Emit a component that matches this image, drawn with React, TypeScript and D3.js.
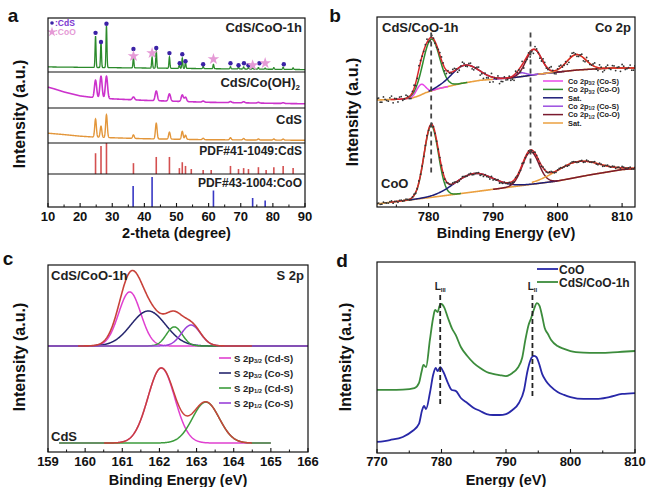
import React from 'react';
import * as d3 from 'd3';

const FONT = "'Liberation Sans', Arial, Helvetica, sans-serif";

// ================= Panel a : XRD =================
const xrdMajorTicks = [10, 20, 30, 40, 50, 60, 70, 80, 90];
const xrdMinorTicks = [15, 25, 35, 45, 55, 65, 75, 85];

const hybridXrdPeakPos = [24.8, 26.5, 28.2, 36.6, 42.4, 43.7, 47.8, 50.9, 51.8, 52.8, 58.3, 61.5, 66.8, 69.3, 70.9, 72.4, 73.7, 75.5, 77.6, 80.3, 83.2, 86.3];
const hybridXrdPeakInt = [58, 47, 77, 19, 20, 32, 21, 6, 19, 11, 4, 8, 4, 3, 4, 3, 2, 3, 2, 3, 4, 3];
const hybridXrdBaseX = [10, 30, 50, 70, 90];
const hybridXrdBaseY = [9.4, 8, 6.8, 5.6, 4.5];

const cohXrdPeakPos = [24.8, 26.5, 28.2, 36.6, 43.7, 47.8, 51.8, 52.8, 58.3, 66.8, 70.9, 75.5, 83.2];
const cohXrdPeakInt = [49, 61, 62, 8, 27, 20, 18, 12, 3, 3, 3, 2, 2];
const cohXrdBaseX = [10, 12, 15, 20, 25, 30, 40, 50, 60, 70, 80, 90];
const cohXrdBaseY = [58, 53, 44.5, 33.6, 28, 25.4, 21.3, 18.6, 15.8, 14.5, 13, 11.7];

const cdsXrdPeakPos = [24.8, 26.5, 28.2, 36.6, 43.7, 47.8, 51.8, 52.8, 58.3, 66.8, 70.9, 75.5, 80.3, 83.2];
const cdsXrdPeakInt = [52, 32, 65, 10, 45, 20, 23, 12, 4, 6, 4, 3, 3, 3];
const cdsXrdBaseX = [10, 15, 20, 25, 30, 40, 50, 60, 80, 90];
const cdsXrdBaseY = [28, 24, 19.5, 16.6, 15, 12.2, 10.8, 9.3, 8.4, 7.8];

const cdsRefPos = [24.8, 26.5, 28.2, 36.6, 43.7, 47.8, 50.9, 51.8, 52.8, 54.6, 58.3, 60.8, 66.8, 69.3, 70.9, 72.4, 75.5, 77.9, 80.3, 83.2, 86.3];
const cdsRefInt = [67, 90, 100, 35, 55, 55, 19, 38, 26, 16, 13, 13, 26, 16, 19, 16, 22, 13, 22, 26, 19];
const cooRefPos = [36.5, 42.4, 61.5, 73.7, 77.6];
const cooRefInt = [70, 100, 55, 30, 22];

const cdsMarkPos = [24.8, 26.5, 28.2, 36.6, 43.7, 47.8, 51.0, 51.8, 52.8, 58.3, 66.8, 69.3, 71.0, 72.4, 75.8, 83.4];
const cdsMarkY = [72.5, 55.6, 89.3, 42.5, 44.4, 35, 16.3, 33, 20, 14.4, 16.3, 12.5, 16.3, 12.5, 16.3, 14.4];
const cooMarkPos = [36.6, 42.4, 61.5, 73.7, 77.6];
const cooMarkY = [29.4, 35, 23.8, 12.5, 16.3];

// ================= Panel b : Co 2p XPS =================
const bMajorTicks = [780, 790, 800, 810];
const bMinorTicks = [775, 785, 795, 805];
const coLegendNames = ['Co 2p|3/2| (Co-S)', 'Co 2p|3/2| (Co-O)', 'Sat.', 'Co 2p|1/2| (Co-S)', 'Co 2p|1/2| (Co-O)', 'Sat.'];

const hybridCoBaseE = [772, 776, 777.5, 778.5, 779.5, 780.5, 781.5, 783, 785, 788, 790, 793, 795, 797, 800, 803, 806, 809, 812];
const hybridCoBaseI = [56.3, 56.8, 57.4, 58.5, 60.1, 61.2, 62.3, 63.4, 65.0, 66.7, 67.2, 68.0, 68.9, 69.9, 71.0, 72.1, 72.7, 73.2, 73.2];
const hybridCoComp = [0, 1, 2, 3, 4, 5];
const hybridCoCenter = [778.8, 780.4, 785.6, 794.3, 796.3, 802.9];
const hybridCoHeight = [5.5, 27.3, 9.3, 2, 13.4, 8.2];
const hybridCoFwhm = [1.6, 3.0, 5.0, 2.0, 2.8, 3.5];
const hybridCoFrom = [775, 776, 780, 790, 792, 797];
const hybridCoTo = [783, 786, 801, 799, 812, 812];

const cooCoBaseE = [772, 776, 780, 785, 790, 795, 800, 805, 810, 812];
const cooCoBaseI = [1.6, 3.3, 4.9, 7.1, 9.3, 11.5, 13.7, 16.9, 19.7, 20.2];
const cooCoComp = [1, 2, 4, 5];
const cooCoCenter = [780.4, 787, 795.8, 803];
const cooCoHeight = [37.7, 9.6, 17.2, 8.2];
const cooCoFwhm = [2.6, 7, 3, 8];
const cooCoFrom = [776, 777, 790, 796];
const cooCoTo = [785, 800, 812, 812];

const coNoise = [0.8, -1.2, 1.5, -0.4, 0.9, -1.8, 0.3, 1.1, -0.7, 1.6, -1.1, 0.5, -1.5, 1.9, -0.2, 0.7, -1.3, 1.2, -0.9, 0.4, 1.7, -1.6, 0.6, -0.5, 1.3, -1.9, 0.2, 1.0, -0.8, 1.4, -1.4, 0.9, -2.2, -2.8, -1.5, -3.1, -2.4, -0.6, -2.9, -1.8, -1.0, 0.6, -1.7, 1.1, -0.3, 1.8, -1.2, 0.5, -0.9, 1.5, 0.1, -1.3, 1.0, -0.6, 1.9, -1.5, 0.4, 1.2, -0.4, -1.7, 0.8, 1.4, -1.0, 0.3, -1.6, 1.7, -0.5, 0.9, -1.1, 1.6, -1.9, 0.7, -0.2, 1.3, -1.4, 0.5, 1.8, -0.8, 0.2, -1.2, 1.0];
const coDashE = [780.4, 795.8];
const coDashTop = [91.8, 91.8];
const coDashBottom = [18, 20.2];

// ================= Panel c : S 2p XPS =================
const cMajorTicks = [159, 160, 161, 162, 163, 164, 165, 166];
const cMinorTicks = [159.5, 160.5, 161.5, 162.5, 163.5, 164.5, 165.5];
const sLegendNames = ['S 2p|3/2| (Cd-S)', 'S 2p|3/2| (Co-S)', 'S 2p|1/2| (Cd-S)', 'S 2p|1/2| (Co-S)'];
const hybridSCenter = [161.2, 161.7, 162.4, 162.85];
const hybridSHeight = [28.9, 18.7, 10.2, 11.2];
const hybridSFwhm = [0.7, 1.1, 0.5, 0.6];
const hybridSBase = 56.7;
const cdsSComp = [0, 2];
const cdsSCenter = [162.05, 163.25];
const cdsSHeight = [40.1, 21.9];
const cdsSFwhm = [0.85, 0.85];
const cdsSBase = 4.8;

// ================= Panel d : XAS =================
const dMajorTicks = [770, 780, 790, 800, 810];
const dMinorTicks = [775, 785, 795, 805];
const hybridXasE = [770, 772, 774, 775.8, 776.5, 776.9, 777.2, 777.6, 778.2, 778.7, 779.0, 779.4, 779.7, 780.0, 780.4, 781.0, 781.6, 782.2, 783.0, 784, 785, 786, 787, 788, 789, 790, 791, 791.8, 792.5, 793.0, 793.5, 793.9, 794.3, 794.8, 795.2, 795.6, 796.0, 796.5, 797.0, 798, 799, 800, 802, 804, 806, 808, 810];
const hybridXasI = [33.0, 33.0, 33.2, 34.0, 36.6, 42.4, 46.1, 45.0, 59.2, 70.7, 74.9, 73.8, 77.0, 78.0, 76.4, 70.7, 65.4, 61.8, 55.5, 50.8, 47.1, 44.5, 42.4, 41.4, 40.8, 40.3, 41.9, 44.5, 49.7, 59.2, 67.0, 70.7, 74.9, 78.5, 77.0, 71.7, 65.4, 62.3, 59.2, 56.0, 54.5, 53.4, 52.6, 52.4, 52.6, 53.0, 53.4];
const cooXasE = [770, 772, 774, 775.5, 776.5, 777.0, 777.3, 777.6, 778.2, 778.7, 779.1, 779.4, 779.8, 780.3, 781.0, 781.6, 782.2, 783.0, 784, 785, 786, 787, 788, 789, 790, 791, 792, 792.8, 793.3, 793.8, 794.3, 794.7, 795.1, 795.6, 796.2, 797, 798, 799, 800, 802, 804, 806, 808, 810];
const cooXasI = [5.8, 6.8, 8.4, 11.5, 15.2, 22.5, 24.6, 23.0, 31.4, 40.8, 44.5, 42.9, 45.0, 42.4, 36.6, 33.0, 32.5, 28.8, 26.2, 23.6, 22.0, 20.4, 19.9, 19.9, 20.4, 22.5, 26.2, 33.0, 42.4, 48.7, 50.8, 50.3, 47.1, 41.4, 37.7, 34.6, 31.9, 30.4, 29.3, 28.3, 28.3, 29.3, 30.9, 31.4];
const xasDashE = [779.8, 794.1];
const xasDashTop = [82.7, 82.7];
const xasDashBottom = [25.1, 29.3];
const xasEdgeNames = ['III', 'II'];
const xasLegend = ['CoO', 'CdS/CoO-1h'];

// ================= helpers =================
const gauss = (x: number, c: number, h: number, w: number) =>
  h * Math.exp(-4 * Math.LN2 * ((x - c) / w) ** 2);

function sumPeaks(x: number, c: number[], h: number[], w: number[]) {
  let s = 0;
  for (let i = 0; i < c.length; i++) s += gauss(x, c[i], h[i], w[i]);
  return s;
}

type Pt = [number, number];

function SubText({ label, x, y, size, color, anchor }: { label: string; x: number; y: number; size: number; color?: string; anchor?: string }) {
  const parts = label.split('|');
  return (
    <text x={x} y={y} fontSize={size} fontWeight="bold" fill={color || '#222'} textAnchor={anchor || 'start'}>
      {parts[0]}
      {parts.length > 1 && (
        <tspan fontSize={size * 0.6} dy={size * 0.2}>{parts[1]}</tspan>
      )}
      {parts.length > 2 && <tspan dy={-size * 0.2}>{parts[2]}</tspan>}
    </text>
  );
}

function XAxis({ scale, y, major, minor, labelY, title, titleY }: any) {
  const r = scale.range();
  return (
    <g>
      {major.map((t: number) => (
        <line key={'M' + t} x1={scale(t)} x2={scale(t)} y1={y} y2={y - 4} stroke="#111" strokeWidth={1.1} />
      ))}
      {minor.map((t: number) => (
        <line key={'m' + t} x1={scale(t)} x2={scale(t)} y1={y} y2={y - 2.5} stroke="#111" strokeWidth={1} />
      ))}
      {major.map((t: number) => (
        <text key={'L' + t} x={scale(t)} y={labelY} textAnchor="middle" fontSize={13} fontWeight="bold" fill="#111">
          {t}
        </text>
      ))}
      <text x={(r[0] + r[1]) / 2} y={titleY} textAnchor="middle" fontSize={14.5} fontWeight="bold" fill="#111">
        {title}
      </text>
    </g>
  );
}

function YTitle({ x, y }: { x: number; y: number }) {
  return (
    <text transform={`translate(${x},${y}) rotate(-90)`} textAnchor="middle" dominantBaseline="central" fontSize={16} fontWeight="bold" fill="#111">
      Intensity (a.u.)
    </text>
  );
}

function PanelLetter({ x, y, t }: { x: number; y: number; t: string }) {
  return (
    <text x={x} y={y} textAnchor="middle" dominantBaseline="central" fontSize={19} fontWeight="bold" fill="#111">
      {t}
    </text>
  );
}

// ================= Panel a =================
function PanelA() {
  const L = 48, R = 305;
  const rows = [18, 72, 108, 143, 174, 207];
  const x = d3.scaleLinear().domain([10, 90]).range([L, R]);
  const ys = [0, 1, 2, 3, 4].map((i) =>
    d3.scaleLinear().domain([0, i === 4 ? 110 : 100]).range([rows[i + 1], rows[i]])
  );
  const grid = d3.range(10, 90.0001, 0.04);
  const trace = (pos: number[], ints: number[], w: number, bx: number[], by: number[], ysc: any) => {
    const base = d3.scaleLinear().domain(bx).range(by).clamp(true);
    const pts: Pt[] = grid.map((t) => [t, base(t) + sumPeaks(t, pos, ints, pos.map(() => w))]);
    return d3.line<Pt>().x((d) => x(d[0])).y((d) => ysc(d[1]))(pts) || '';
  };
  const star = d3.symbol().type(d3.symbolStar).size(42)() || '';
  const starSmall = d3.symbol().type(d3.symbolStar).size(30)() || '';
  return (
    <g>
      <PanelLetter x={13} y={15} t="a" />
      <YTitle x={19} y={114} />
      <path d={trace(hybridXrdPeakPos, hybridXrdPeakInt, 0.35, hybridXrdBaseX, hybridXrdBaseY, ys[0])} fill="none" stroke="#2b8a2b" strokeWidth={1.3} />
      <path d={trace(cohXrdPeakPos, cohXrdPeakInt, 0.8, cohXrdBaseX, cohXrdBaseY, ys[1])} fill="none" stroke="#cc33cc" strokeWidth={1.6} />
      <path d={trace(cdsXrdPeakPos, cdsXrdPeakInt, 0.6, cdsXrdBaseX, cdsXrdBaseY, ys[2])} fill="none" stroke="#e3963a" strokeWidth={1.4} />
      {cdsRefPos.map((p, i) => (
        <line key={'r' + i} x1={x(p)} x2={x(p)} y1={ys[3](0)} y2={ys[3](cdsRefInt[i])} stroke="#d45050" strokeWidth={1.6} />
      ))}
      {cooRefPos.map((p, i) => (
        <line key={'b' + i} x1={x(p)} x2={x(p)} y1={ys[4](0)} y2={ys[4](cooRefInt[i])} stroke="#3838c4" strokeWidth={1.6} />
      ))}
      {cdsMarkPos.map((p, i) => (
        <circle key={'cm' + i} cx={x(p)} cy={ys[0](cdsMarkY[i])} r={2.2} fill="#3b22a6" />
      ))}
      {cooMarkPos.map((p, i) => (
        <path key={'sm' + i} d={star} transform={`translate(${x(p)},${ys[0](cooMarkY[i])})`} fill="#e59ad6" />
      ))}
      {/* legend */}
      <circle cx={52} cy={23} r={1.8} fill="#3b22a6" />
      <text x={55} y={26} fontSize={8.5} fontWeight="bold" fill="#7b35d0">:CdS</text>
      <path d={starSmall} transform="translate(52,32)" fill="#e59ad6" />
      <text x={55} y={35} fontSize={8.5} fontWeight="bold" fill="#e59ad6">:CoO</text>
      {/* frames */}
      <rect x={L} y={rows[0]} width={R - L} height={rows[5] - rows[0]} fill="none" stroke="#111" strokeWidth={1.2} />
      {rows.slice(1, 5).map((r) => (
        <line key={'sep' + r} x1={L} x2={R} y1={r} y2={r} stroke="#111" strokeWidth={1.1} />
      ))}
      <text x={302} y={32} textAnchor="end" fontSize={13} fontWeight="bold" fill="#222">CdS/CoO-1h</text>
      <text x={300} y={87} textAnchor="end" fontSize={13} fontWeight="bold" fill="#222">
        CdS/Co(OH)<tspan fontSize={8} dy={3}>2</tspan>
      </text>
      <text x={302} y={124} textAnchor="end" fontSize={13} fontWeight="bold" fill="#222">CdS</text>
      <text x={302} y={155} textAnchor="end" fontSize={12} fontWeight="bold" fill="#222">PDF#41-1049:CdS</text>
      <text x={302} y={187} textAnchor="end" fontSize={12} fontWeight="bold" fill="#222">PDF#43-1004:CoO</text>
      <XAxis scale={x} y={rows[5]} major={xrdMajorTicks} minor={xrdMinorTicks} labelY={221} title="2-theta (degree)" titleY={238} />
    </g>
  );
}

// ================= Panel b =================
const coColors = ['#e848e8', '#2e8b2e', '#1c1c78', '#9b4fe0', '#7a1a2e', '#eba040'];

function PanelB() {
  const L = 377, R = 635, T = 17, B = 207;
  const x = d3.scaleLinear().domain([772, 812]).range([L, R]);
  const y = d3.scaleLinear().domain([0, 100]).range([B, T]);
  const line = d3.line<Pt>().x((d) => x(d[0])).y((d) => y(d[1]));
  const grid = d3.range(772, 812.0001, 0.1);

  const spectrum = (
    key: string, baseE: number[], baseI: number[], comp: number[], c: number[], h: number[], w: number[],
    from: number[], to: number[], noiseScale: number
  ) => {
    const base = d3.scaleLinear().domain(baseE).range(baseI).clamp(true);
    const env = (e: number) => base(e) + sumPeaks(e, c, h, w);
    const dots: Pt[] = [];
    coNoise.forEach((n, i) => {
      const e1 = 772 + i * 0.5;
      if (e1 <= 812) dots.push([e1, env(e1) + n * noiseScale]);
      const e2 = 772.25 + i * 0.5;
      const n2 = coNoise[coNoise.length - 1 - i];
      if (e2 <= 812) dots.push([e2, env(e2) + n2 * noiseScale]);
    });
    return (
      <g key={key}>
        <path d={line(grid.map((e) => [e, base(e)] as Pt)) || ''} fill="none" stroke="#eba040" strokeWidth={1.6} />
        {comp.map((ci, k) => {
          const g = d3.range(from[k], to[k] + 0.0001, 0.1).map((e) => [e, base(e) + gauss(e, c[k], h[k], w[k])] as Pt);
          return <path key={k} d={line(g) || ''} fill="none" stroke={coColors[ci]} strokeWidth={1.5} />;
        })}
        <path d={line(grid.filter((e) => e > 774).map((e) => [e, env(e)] as Pt)) || ''} fill="none" stroke="#d8262a" strokeWidth={1.5} />
        {dots.map((d, i) => (
          <circle key={i} cx={x(d[0])} cy={y(d[1])} r={0.9} fill="#333" />
        ))}
      </g>
    );
  };

  return (
    <g>
      <PanelLetter x={335} y={15} t="b" />
      <YTitle x={352} y={112} />
      <defs>
        <clipPath id="clipB"><rect x={L} y={T} width={R - L} height={B - T} /></clipPath>
      </defs>
      <g clipPath="url(#clipB)">
        {spectrum('hyb', hybridCoBaseE, hybridCoBaseI, hybridCoComp, hybridCoCenter, hybridCoHeight, hybridCoFwhm, hybridCoFrom, hybridCoTo, 1)}
        {spectrum('coo', cooCoBaseE, cooCoBaseI, cooCoComp, cooCoCenter, cooCoHeight, cooCoFwhm, cooCoFrom, cooCoTo, 0.35)}
      </g>
      {coDashE.map((e, i) => (
        <line key={i} x1={x(e)} x2={x(e)} y1={y(coDashTop[i])} y2={y(coDashBottom[i])} stroke="#444" strokeWidth={1.8} strokeDasharray="5,4" />
      ))}
      {coLegendNames.map((n, i) => (
        <g key={i}>
          <line x1={543} x2={563} y1={81 + i * 8.4} y2={81 + i * 8.4} stroke={coColors[i]} strokeWidth={1.5} />
          <SubText label={n} x={568} y={83.7 + i * 8.4} size={7.4} color="#222" />
        </g>
      ))}
      <text x={382} y={32} fontSize={13} fontWeight="bold" fill="#222">CdS/CoO-1h</text>
      <text x={631} y={32} textAnchor="end" fontSize={13} fontWeight="bold" fill="#222">Co 2p</text>
      <text x={381} y={188} fontSize={13} fontWeight="bold" fill="#222">CoO</text>
      <rect x={L} y={T} width={R - L} height={B - T} fill="none" stroke="#111" strokeWidth={1.2} />
      <XAxis scale={x} y={B} major={bMajorTicks} minor={bMinorTicks} labelY={221} title="Binding Energy (eV)" titleY={238} />
    </g>
  );
}

// ================= Panel c =================
const sColors = ['#e040d0', '#26266e', '#3c9c3c', '#9a40d8'];

function PanelC() {
  const L = 48, R = 308, T = 265, B = 452;
  const x = d3.scaleLinear().domain([159, 166]).range([L, R]);
  const y = d3.scaleLinear().domain([0, 100]).range([B, T]);
  const line = d3.line<Pt>().x((d) => x(d[0])).y((d) => y(d[1]));
  const full = d3.range(159, 166.0001, 0.01);
  const lower = d3.range(159.3, 165.0001, 0.01);
  return (
    <g>
      <PanelLetter x={8} y={258} t="c" />
      <YTitle x={19} y={357} />
      {/* upper spectrum */}
      {hybridSCenter.map((c, k) => (
        <path key={'u' + k} d={line(full.map((e) => [e, hybridSBase + gauss(e, c, hybridSHeight[k], hybridSFwhm[k])] as Pt)) || ''} fill="none" stroke={sColors[k]} strokeWidth={1.5} />
      ))}
      <path d={line(full.filter((e) => e > 159.8 && e < 164.5).map((e) => [e, hybridSBase + sumPeaks(e, hybridSCenter, hybridSHeight, hybridSFwhm)] as Pt)) || ''} fill="none" stroke="#c8423a" strokeWidth={1.6} />
      {/* lower spectrum */}
      {cdsSComp.map((ci, k) => (
        <path key={'l' + k} d={line(lower.map((e) => [e, cdsSBase + gauss(e, cdsSCenter[k], cdsSHeight[k], cdsSFwhm[k])] as Pt)) || ''} fill="none" stroke={sColors[ci]} strokeWidth={1.5} />
      ))}
      <path d={line(lower.filter((e) => e > 160.5 && e < 164.5).map((e) => [e, cdsSBase + sumPeaks(e, cdsSCenter, cdsSHeight, cdsSFwhm)] as Pt)) || ''} fill="none" stroke="#c8423a" strokeWidth={1.5} />
      {sLegendNames.map((n, i) => (
        <g key={i}>
          <line x1={219} x2={231} y1={358 + i * 15} y2={358 + i * 15} stroke={sColors[i]} strokeWidth={1.6} />
          <SubText label={n} x={234} y={361.5 + i * 15} size={9.5} color="#222" />
        </g>
      ))}
      <text x={51} y={280} fontSize={13} fontWeight="bold" fill="#222">CdS/CoO-1h</text>
      <text x={304} y={280} textAnchor="end" fontSize={13} fontWeight="bold" fill="#222">S 2p</text>
      <text x={51} y={441} fontSize={13} fontWeight="bold" fill="#222">CdS</text>
      <rect x={L} y={T} width={R - L} height={B - T} fill="none" stroke="#111" strokeWidth={1.2} />
      <XAxis scale={x} y={B} major={cMajorTicks} minor={cMinorTicks} labelY={466} title="Binding Energy (eV)" titleY={485} />
    </g>
  );
}

// ================= Panel d =================
function PanelD() {
  const L = 377, R = 635, T = 262, B = 453;
  const x = d3.scaleLinear().domain([770, 810]).range([L, R]);
  const y = d3.scaleLinear().domain([0, 100]).range([B, T]);
  const line = d3.line<Pt>().x((d) => x(d[0])).y((d) => y(d[1])).curve(d3.curveMonotoneX);
  const colors = ['#2828a8', '#3c8c3c'];
  const cooPts: Pt[] = cooXasE.map((e, i) => [e, cooXasI[i]]);
  const hybPts: Pt[] = hybridXasE.map((e, i) => [e, hybridXasI[i]]);
  return (
    <g>
      <PanelLetter x={342} y={260} t="d" />
      <YTitle x={345} y={357} />
      <path d={line(cooPts) || ''} fill="none" stroke={colors[0]} strokeWidth={1.8} />
      <path d={line(hybPts) || ''} fill="none" stroke={colors[1]} strokeWidth={1.8} />
      {xasDashE.map((e, i) => (
        <g key={i}>
          <line x1={x(e)} x2={x(e)} y1={y(xasDashTop[i])} y2={y(xasDashBottom[i])} stroke="#222" strokeWidth={1.8} strokeDasharray="5,3" />
          <text x={x(e)} y={290} textAnchor="middle" fontSize={10} fontWeight="bold" fill="#222">
            L<tspan fontSize={6} dy={2}>{xasEdgeNames[i]}</tspan>
          </text>
        </g>
      ))}
      {xasLegend.map((n, i) => (
        <g key={i}>
          <line x1={537} x2={558} y1={269 + i * 13} y2={269 + i * 13} stroke={colors[i]} strokeWidth={1.8} />
          <text x={559} y={273.5 + i * 13} fontSize={12} fontWeight="bold" fill="#222">{n}</text>
        </g>
      ))}
      <rect x={L} y={T} width={R - L} height={B - T} fill="none" stroke="#111" strokeWidth={1.2} />
      <XAxis scale={x} y={B} major={dMajorTicks} minor={dMinorTicks} labelY={466} title="Energy (eV)" titleY={485} />
    </g>
  );
}

export default function App() {
  return (
    <svg width={646} height={487} style={{ position: 'absolute', left: 0, top: 0, background: '#fff' }} fontFamily={FONT}>
      <rect width={646} height={487} fill="#fff" />
      <PanelA />
      <PanelB />
      <PanelC />
      <PanelD />
    </svg>
  );
}
